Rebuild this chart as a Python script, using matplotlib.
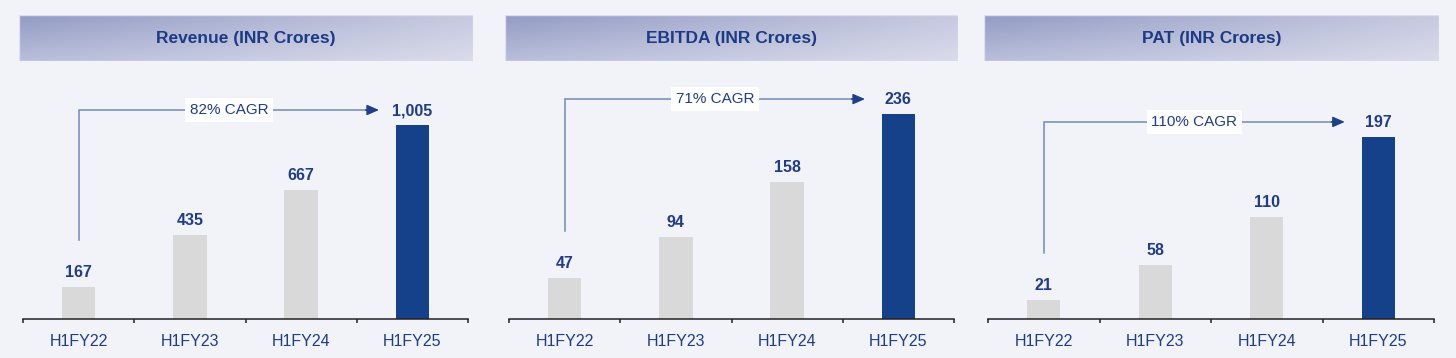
import matplotlib
matplotlib.use('Agg')
import matplotlib.pyplot as plt
import numpy as np
from matplotlib.colors import to_rgb
from matplotlib.patches import Rectangle

plt.rcParams['font.family'] = ['Liberation Sans', 'DejaVu Sans']

# ---------------- data ----------------
periods = ['H1FY22', 'H1FY23', 'H1FY24', 'H1FY25']
titles = ['Revenue (INR Crores)', 'EBITDA (INR Crores)', 'PAT (INR Crores)']
revenue = [167, 435, 667, 1005]
ebitda = [47, 94, 158, 236]
pat = [21, 58, 110, 197]
cagr_labels = ['82% CAGR', '71% CAGR', '110% CAGR']
series = [revenue, ebitda, pat]

# ---------------- layout (pixels) ----------------
W, H = 1456, 358
axes_x = [(23, 468), (509, 954), (988, 1434)]
header_x = [(19, 473), (505, 958), (984, 1439)]
header_y = (15, 61)
base_y, top_y = 319, 75
ytops = [1264, 281, 264]

BLUE_TXT = '#1f3c88'
DARK_BAR = '#15418a'
GREY_BAR = '#d9d9d9'
LINE_C = '#7189bd'

fig = plt.figure(figsize=(W / 100, H / 100), dpi=100)
fig.patch.set_facecolor('#f1f3f9')


def header(x0, x1, title):
    hax = fig.add_axes([x0 / W, (H - header_y[1]) / H, (x1 - x0) / W,
                        (header_y[1] - header_y[0]) / H])
    cl = np.array(to_rgb('#939bc5'))
    cr = np.array(to_rgb('#c6c9e0'))
    nx, ny = 300, 40
    t = np.linspace(0, 1, nx)[None, :, None]
    v = np.linspace(0, 1, ny)[:, None, None]
    top = cl * (1 - t) + cr * t
    img = top * (1 - 0.35 * v) + np.ones(3) * 0.35 * v
    hax.imshow(img, aspect='auto', extent=[0, 1, 0, 1], origin='upper')
    hax.add_patch(Rectangle((0, 0), 1, 1, transform=hax.transAxes,
                            fill=False, ec='#dde0ec', lw=1))
    hax.set_xlim(0, 1)
    hax.set_ylim(0, 1)
    hax.axis('off')
    hax.text(0.5, 0.5, title, ha='center', va='center', fontsize=12.5,
             fontweight='bold', color='#1d3a84')


for k, vals in enumerate(series):
    x0, x1 = axes_x[k]
    ax = fig.add_axes([x0 / W, (H - base_y) / H, (x1 - x0) / W,
                       (base_y - top_y) / H])
    ax.set_facecolor('none')
    colors = [GREY_BAR] * (len(vals) - 1) + [DARK_BAR]
    xs = np.arange(len(vals))
    ax.bar(xs, vals, width=0.3, color=colors, zorder=2)
    ax.set_xlim(-0.5, len(vals) - 0.5)
    ax.set_ylim(0, ytops[k])
    for s in ['top', 'right', 'left']:
        ax.spines[s].set_visible(False)
    ax.spines['bottom'].set_color('#222222')
    ax.spines['bottom'].set_linewidth(1.1)
    ax.set_yticks([])
    ax.set_xticks(xs)
    ax.set_xticklabels(periods)
    ax.set_xticks(np.arange(-0.5, len(vals), 1), minor=True)
    ax.tick_params(axis='x', which='major', length=0, pad=11,
                   labelsize=11.5, labelcolor=BLUE_TXT)
    ax.tick_params(axis='x', which='minor', length=3, width=1.1,
                   color='#222222', direction='out')

    for i, v in enumerate(vals):
        ax.annotate(f'{v:,}', (i, v), xytext=(0, 5), textcoords='offset points',
                    ha='center', va='bottom', fontsize=11.5, fontweight='bold',
                    color=BLUE_TXT)

    ppu = (base_y - top_y) / ytops[k]
    y_start = vals[0] + 47 / ppu
    y_arrow = vals[-1] + 15 / ppu
    x_end = len(vals) - 1 - 0.3
    ax.plot([0, 0, x_end - 0.05], [y_start, y_arrow, y_arrow], color=LINE_C,
            lw=1.1, solid_joinstyle='miter', clip_on=False, zorder=3)
    ax.annotate('', xy=(x_end, y_arrow), xytext=(x_end - 0.12, y_arrow),
                arrowprops=dict(arrowstyle='-|>,head_length=0.8,head_width=0.35',
                                color='#1f3f8a', lw=1.1, shrinkA=0, shrinkB=0,
                                mutation_scale=9), zorder=3)
    ax.text(x_end / 2, y_arrow, cagr_labels[k], ha='center', va='center',
            fontsize=11, color=BLUE_TXT, zorder=4,
            bbox=dict(boxstyle='square,pad=0.3', fc='white', ec='none'))

    header(header_x[k][0], header_x[k][1], titles[k])

fig.savefig('out.png', dpi=100, facecolor=fig.get_facecolor())
